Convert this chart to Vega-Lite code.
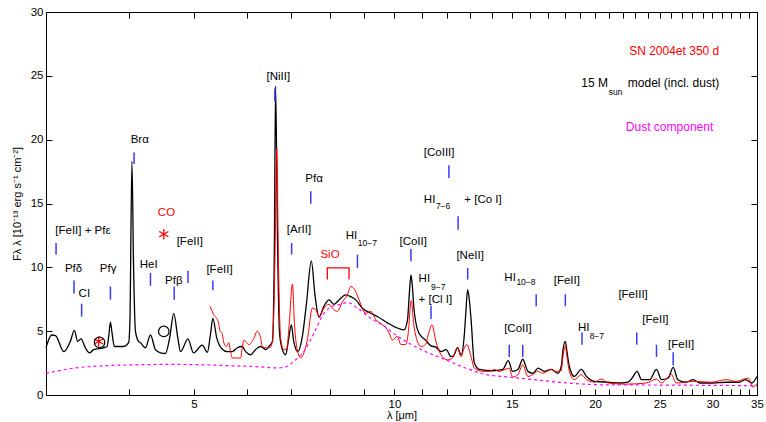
{
  "$schema": "https://vega.github.io/schema/vega-lite/v6.json",
  "width": 711,
  "height": 383,
  "autosize": "none",
  "padding": {"left": 46, "top": 12, "right": 9, "bottom": 27},
  "background": "white",
  "config": {
    "font": "Liberation Sans",
    "view": {"stroke": "black", "strokeWidth": 1},
    "axis": {"grid": false, "labelFont": "Liberation Sans", "titleFont": "Liberation Sans", "labelFontSize": 11.5, "titleFontSize": 11, "titleFontWeight": "normal", "labelColor": "black", "titleColor": "black", "tickColor": "black", "domainColor": "black", "tickSize": -6, "labelPadding": 9, "labelOverlap": false, "labelFlush": false},
    "text": {"font": "Liberation Sans", "fontSize": 11.5, "baseline": "middle"}
  },
  "resolve": {"axis": {"x": "independent", "y": "independent"}},
  "datasets": {
    "spec": [
      {"s":"model","x":3.0,"y":3.7},{"s":"model","x":3.06,"y":4.7},{"s":"model","x":3.10,"y":4.65},{"s":"model","x":3.19,"y":3.4},{"s":"model","x":3.263,"y":4.2},{"s":"model","x":3.309,"y":5.06},{"s":"model","x":3.347,"y":4.2},{"s":"model","x":3.386,"y":4.4},{"s":"model","x":3.437,"y":3.7},{"s":"model","x":3.488,"y":3.3},{"s":"model","x":3.537,"y":3.55},{"s":"model","x":3.658,"y":3.7},{"s":"model","x":3.705,"y":3.8},{"s":"model","x":3.73,"y":4.8},{"s":"model","x":3.748,"y":5.7},{"s":"model","x":3.77,"y":4.8},{"s":"model","x":3.80,"y":3.8},{"s":"model","x":3.924,"y":3.8},{"s":"model","x":3.992,"y":4.1},{"s":"model","x":4.01,"y":6},{"s":"model","x":4.037,"y":18.3},{"s":"model","x":4.06,"y":10},{"s":"model","x":4.086,"y":5},{"s":"model","x":4.13,"y":4.2},{"s":"model","x":4.158,"y":4.1},{"s":"model","x":4.23,"y":3.7},{"s":"model","x":4.304,"y":4.7},{"s":"model","x":4.379,"y":3.55},{"s":"model","x":4.456,"y":3.3},{"s":"model","x":4.533,"y":3.25},{"s":"model","x":4.60,"y":4.5},{"s":"model","x":4.665,"y":6.4},{"s":"model","x":4.73,"y":4.5},{"s":"model","x":4.775,"y":3.4},{"s":"model","x":4.90,"y":4.4},{"s":"model","x":4.994,"y":3.3},{"s":"model","x":5.148,"y":3.9},{"s":"model","x":5.24,"y":3.35},{"s":"model","x":5.297,"y":4.8},{"s":"model","x":5.34,"y":6.0},{"s":"model","x":5.41,"y":4.5},{"s":"model","x":5.514,"y":3.6},{"s":"model","x":5.608,"y":3.4},{"s":"model","x":5.71,"y":3.4},{"s":"model","x":5.81,"y":3.7},{"s":"model","x":5.91,"y":3.8},{"s":"model","x":5.98,"y":3.4},{"s":"model","x":6.084,"y":3.15},{"s":"model","x":6.186,"y":3.55},{"s":"model","x":6.299,"y":3.8},{"s":"model","x":6.41,"y":3.55},{"s":"model","x":6.48,"y":3.8},{"s":"model","x":6.56,"y":4.2},{"s":"model","x":6.605,"y":12},{"s":"model","x":6.632,"y":24.2},{"s":"model","x":6.677,"y":12},{"s":"model","x":6.72,"y":5},{"s":"model","x":6.77,"y":3.8},{"s":"model","x":6.867,"y":3.15},{"s":"model","x":6.93,"y":4.2},{"s":"model","x":7.003,"y":5.5},{"s":"model","x":7.06,"y":4.2},{"s":"model","x":7.164,"y":3.4},{"s":"model","x":7.27,"y":4.5},{"s":"model","x":7.38,"y":7.2},{"s":"model","x":7.503,"y":10.5},{"s":"model","x":7.60,"y":7.8},{"s":"model","x":7.706,"y":6.1},{"s":"model","x":7.838,"y":6.95},{"s":"model","x":7.975,"y":7.45},{"s":"model","x":8.115,"y":7.1},{"s":"model","x":8.257,"y":7.45},{"s":"model","x":8.451,"y":7.85},{"s":"model","x":8.601,"y":7.7},{"s":"model","x":8.749,"y":7.45},{"s":"model","x":8.953,"y":6.8},{"s":"model","x":9.218,"y":6.4},{"s":"model","x":9.427,"y":6.15},{"s":"model","x":9.765,"y":5.65},{"s":"model","x":10.045,"y":5.3},{"s":"model","x":10.339,"y":5.1},{"s":"model","x":10.463,"y":5.9},{"s":"model","x":10.53,"y":8.0},{"s":"model","x":10.587,"y":9.4},{"s":"model","x":10.64,"y":8.5},{"s":"model","x":10.70,"y":6.7},{"s":"model","x":10.88,"y":4.85},{"s":"model","x":11.134,"y":4.3},{"s":"model","x":11.346,"y":3.85},{"s":"model","x":11.54,"y":3.75},{"s":"model","x":11.746,"y":3.4},{"s":"model","x":11.958,"y":3.55},{"s":"model","x":12.16,"y":3.0},{"s":"model","x":12.29,"y":3.15},{"s":"model","x":12.435,"y":3.7},{"s":"model","x":12.588,"y":3.15},{"s":"model","x":12.726,"y":4.6},{"s":"model","x":12.8,"y":6.5},{"s":"model","x":12.876,"y":8.25},{"s":"model","x":12.95,"y":7.5},{"s":"model","x":13.032,"y":5.9},{"s":"model","x":13.18,"y":2.5},{"s":"model","x":13.41,"y":2.0},{"s":"model","x":14.05,"y":1.9},{"s":"model","x":14.54,"y":2.0},{"s":"model","x":14.82,"y":2.7},{"s":"model","x":15.04,"y":1.85},{"s":"model","x":15.32,"y":2.0},{"s":"model","x":15.58,"y":2.8},{"s":"model","x":15.86,"y":1.85},{"s":"model","x":16.13,"y":1.7},{"s":"model","x":16.44,"y":2.1},{"s":"model","x":16.78,"y":1.85},{"s":"model","x":17.19,"y":2.0},{"s":"model","x":17.58,"y":1.7},{"s":"model","x":17.796,"y":2.25},{"s":"model","x":17.9,"y":3.5},{"s":"model","x":18.05,"y":4.2},{"s":"model","x":18.15,"y":3.4},{"s":"model","x":18.30,"y":2.25},{"s":"model","x":18.61,"y":1.45},{"s":"model","x":19.07,"y":2.0},{"s":"model","x":19.42,"y":1.45},{"s":"model","x":19.96,"y":1.07},{"s":"model","x":20.92,"y":1.0},{"s":"model","x":21.9,"y":0.94},{"s":"model","x":22.40,"y":1.0},{"s":"model","x":22.68,"y":1.25},{"s":"model","x":23.13,"y":1.85},{"s":"model","x":23.48,"y":1.2},{"s":"model","x":24.16,"y":1.2},{"s":"model","x":24.73,"y":2.0},{"s":"model","x":25.16,"y":1.2},{"s":"model","x":25.75,"y":1.33},{"s":"model","x":26.2,"y":2.17},{"s":"model","x":26.62,"y":1.2},{"s":"model","x":27.37,"y":1.0},{"s":"model","x":28.08,"y":1.2},{"s":"model","x":28.70,"y":0.94},{"s":"model","x":30.06,"y":0.94},{"s":"model","x":31.49,"y":1.0},{"s":"model","x":32.89,"y":1.0},{"s":"model","x":33.64,"y":1.2},{"s":"model","x":34.36,"y":0.94},{"s":"model","x":35.0,"y":1.45},
      {"s":"obs","x":5.286,"y":6.95},{"s":"obs","x":5.355,"y":6.3},{"s":"obs","x":5.437,"y":5.8},{"s":"obs","x":5.475,"y":5.0},{"s":"obs","x":5.514,"y":4.85},{"s":"obs","x":5.545,"y":4.1},{"s":"obs","x":5.595,"y":3.8},{"s":"obs","x":5.64,"y":4.1},{"s":"obs","x":5.677,"y":3.4},{"s":"obs","x":5.71,"y":2.9},{"s":"obs","x":5.877,"y":2.9},{"s":"obs","x":5.91,"y":3.7},{"s":"obs","x":5.945,"y":4.3},{"s":"obs","x":6.0,"y":4.1},{"s":"obs","x":6.05,"y":3.95},{"s":"obs","x":6.155,"y":4.45},{"s":"obs","x":6.225,"y":5.0},{"s":"obs","x":6.299,"y":4.45},{"s":"obs","x":6.33,"y":3.8},{"s":"obs","x":6.43,"y":3.7},{"s":"obs","x":6.50,"y":3.7},{"s":"obs","x":6.56,"y":4.2},{"s":"obs","x":6.615,"y":10},{"s":"obs","x":6.659,"y":19.3},{"s":"obs","x":6.70,"y":10},{"s":"obs","x":6.748,"y":4.5},{"s":"obs","x":6.81,"y":3.6},{"s":"obs","x":6.89,"y":3.55},{"s":"obs","x":6.95,"y":5.5},{"s":"obs","x":7.03,"y":8.7},{"s":"obs","x":7.08,"y":5.5},{"s":"obs","x":7.15,"y":3.5},{"s":"obs","x":7.234,"y":2.9},{"s":"obs","x":7.30,"y":3.2},{"s":"obs","x":7.40,"y":4.3},{"s":"obs","x":7.53,"y":6.8},{"s":"obs","x":7.617,"y":6.7},{"s":"obs","x":7.706,"y":6.15},{"s":"obs","x":7.838,"y":6.8},{"s":"obs","x":7.975,"y":7.1},{"s":"obs","x":8.07,"y":6.8},{"s":"obs","x":8.21,"y":6.55},{"s":"obs","x":8.355,"y":7.3},{"s":"obs","x":8.50,"y":7.85},{"s":"obs","x":8.601,"y":8.5},{"s":"obs","x":8.749,"y":8.1},{"s":"obs","x":8.848,"y":7.45},{"s":"obs","x":9.055,"y":6.4},{"s":"obs","x":9.218,"y":6.55},{"s":"obs","x":9.376,"y":5.9},{"s":"obs","x":9.596,"y":5.5},{"s":"obs","x":9.71,"y":5.25},{"s":"obs","x":9.82,"y":4.85},{"s":"obs","x":9.93,"y":4.3},{"s":"obs","x":10.10,"y":4.6},{"s":"obs","x":10.227,"y":3.95},{"s":"obs","x":10.40,"y":3.95},{"s":"obs","x":10.48,"y":4.7},{"s":"obs","x":10.60,"y":7.4},{"s":"obs","x":10.69,"y":5.5},{"s":"obs","x":10.77,"y":4.6},{"s":"obs","x":10.96,"y":3.8},{"s":"obs","x":11.134,"y":3.95},{"s":"obs","x":11.25,"y":4.8},{"s":"obs","x":11.386,"y":5.5},{"s":"obs","x":11.54,"y":4.2},{"s":"obs","x":11.746,"y":3.15},{"s":"obs","x":12.01,"y":2.75},{"s":"obs","x":12.22,"y":2.9},{"s":"obs","x":12.435,"y":3.7},{"s":"obs","x":12.588,"y":3.0},{"s":"obs","x":12.71,"y":3.6},{"s":"obs","x":12.84,"y":3.95},{"s":"obs","x":13.032,"y":3.0},{"s":"obs","x":13.18,"y":2.1},{"s":"obs","x":13.57,"y":1.85},{"s":"obs","x":13.88,"y":1.85},{"s":"obs","x":14.13,"y":2.0},{"s":"obs","x":14.36,"y":1.85},{"s":"obs","x":14.65,"y":2.0},{"s":"obs","x":14.87,"y":2.1},{"s":"obs","x":15.04,"y":1.4},{"s":"obs","x":15.32,"y":1.6},{"s":"obs","x":15.58,"y":2.37},{"s":"obs","x":15.86,"y":1.45},{"s":"obs","x":16.13,"y":1.6},{"s":"obs","x":16.40,"y":1.85},{"s":"obs","x":16.69,"y":1.7},{"s":"obs","x":17.19,"y":2.0},{"s":"obs","x":17.47,"y":1.85},{"s":"obs","x":17.796,"y":1.9},{"s":"obs","x":17.9,"y":3.0},{"s":"obs","x":18.05,"y":3.8},{"s":"obs","x":18.15,"y":3.0},{"s":"obs","x":18.30,"y":1.85},{"s":"obs","x":18.61,"y":1.2},{"s":"obs","x":19.07,"y":1.6},{"s":"obs","x":19.42,"y":1.2},{"s":"obs","x":19.96,"y":1.0},{"s":"obs","x":20.44,"y":1.25},{"s":"obs","x":20.92,"y":0.94},{"s":"obs","x":22.27,"y":0.85},{"s":"obs","x":23.88,"y":0.94},{"s":"obs","x":24.73,"y":1.25},{"s":"obs","x":25.16,"y":0.94},{"s":"obs","x":26.05,"y":1.6},{"s":"obs","x":26.46,"y":0.94},{"s":"obs","x":28.08,"y":1.07},{"s":"obs","x":29.91,"y":1.0},{"s":"obs","x":31.49,"y":1.2},{"s":"obs","x":32.58,"y":1.07},{"s":"obs","x":33.98,"y":1.33},{"s":"obs","x":34.49,"y":0.63},{"s":"obs","x":35.0,"y":0.9},
      {"s":"dust","x":3.0,"y":1.7},{"s":"dust","x":3.30,"y":2.1},{"s":"dust","x":3.705,"y":2.3},{"s":"dust","x":4.158,"y":2.37},{"s":"dust","x":4.533,"y":2.4},{"s":"dust","x":5.117,"y":2.37},{"s":"dust","x":5.61,"y":2.3},{"s":"dust","x":6.30,"y":2.2},{"s":"dust","x":6.63,"y":2.12},{"s":"dust","x":6.87,"y":2.2},{"s":"dust","x":7.07,"y":2.65},{"s":"dust","x":7.31,"y":3.4},{"s":"dust","x":7.574,"y":4.85},{"s":"dust","x":7.838,"y":6.4},{"s":"dust","x":8.07,"y":6.95},{"s":"dust","x":8.309,"y":7.1},{"s":"dust","x":8.50,"y":7.25},{"s":"dust","x":8.80,"y":6.8},{"s":"dust","x":9.218,"y":6.0},{"s":"dust","x":9.65,"y":5.4},{"s":"dust","x":10.045,"y":4.7},{"s":"dust","x":10.40,"y":4.2},{"s":"dust","x":11.134,"y":3.4},{"s":"dust","x":11.958,"y":2.75},{"s":"dust","x":12.80,"y":2.1},{"s":"dust","x":13.72,"y":1.6},{"s":"dust","x":14.54,"y":1.45},{"s":"dust","x":16.22,"y":1.2},{"s":"dust","x":18.20,"y":0.94},{"s":"dust","x":20.44,"y":0.8},{"s":"dust","x":25.16,"y":0.78},{"s":"dust","x":35.0,"y":0.73}
    ],
    "ids": [
      {"x":4.067,"y":18.1,"y2":19.0},{"x":3.106,"y":10.98,"y2":11.9},{"x":3.305,"y":7.95,"y2":8.96},{"x":3.393,"y":6.14,"y2":7.15},{"x":3.748,"y":7.47,"y2":8.5},{"x":4.304,"y":8.56,"y2":9.56},{"x":4.672,"y":7.47,"y2":8.5},{"x":4.90,"y":8.78,"y2":9.74},{"x":5.34,"y":8.2,"y2":8.96},{"x":6.615,"y":23.0,"y2":24.0},{"x":7.489,"y":14.99,"y2":15.96},{"x":12.07,"y":17.0,"y2":17.99},{"x":12.46,"y":12.95,"y2":14.0},{"x":7.01,"y":11.0,"y2":11.9},{"x":8.80,"y":9.95,"y2":11.0},{"x":10.587,"y":10.47,"y2":11.44},{"x":11.346,"y":5.95,"y2":7.0},{"x":12.88,"y":9.04,"y2":9.95},{"x":16.32,"y":6.95,"y2":7.9},{"x":18.05,"y":6.95,"y2":7.9},{"x":23.1,"y":3.94,"y2":4.9},{"x":24.73,"y":2.98,"y2":3.94},{"x":26.2,"y":2.32,"y2":3.34},{"x":14.87,"y":2.98,"y2":3.94},{"x":15.58,"y":2.98,"y2":3.94},{"x":19.12,"y":3.94,"y2":4.9}
    ],
    "labc": [
      {"x":4.148,"y":19.95,"t":"Brα","g":"model"},{"x":3.30,"y":9.87,"t":"Pfδ","g":"model"},{"x":3.425,"y":7.94,"t":"CI","g":"model"},{"x":3.718,"y":9.87,"t":"Pfγ","g":"model"},{"x":4.279,"y":10.21,"t":"HeI","g":"model"},{"x":4.665,"y":8.9,"t":"Pfβ","g":"model"},{"x":4.93,"y":11.96,"t":"[FeII]","g":"model"},{"x":5.464,"y":9.82,"t":"[FeII]","g":"model"},{"x":6.695,"y":24.92,"t":"[NiII]","g":"model"},{"x":7.574,"y":16.95,"t":"Pfα","g":"model"},{"x":11.67,"y":18.97,"t":"[CoIII]","g":"model"},{"x":7.19,"y":12.95,"t":"[ArII]","g":"model"},{"x":10.67,"y":11.96,"t":"[CoII]","g":"model"},{"x":12.99,"y":10.86,"t":"[NeII]","g":"model"},{"x":18.14,"y":8.9,"t":"[FeII]","g":"model"},{"x":22.81,"y":7.86,"t":"[FeIII]","g":"model"},{"x":24.64,"y":5.85,"t":"[FeII]","g":"model"},{"x":26.93,"y":3.94,"t":"[FeII]","g":"model"},{"x":15.32,"y":5.17,"t":"[CoII]","g":"model"},{"x":4.549,"y":14.26,"t":"CO","g":"obs"},{"x":8.004,"y":10.99,"t":"SiO","g":"obs"}
    ],
    "labl": [
      {"x":3.098,"y":12.82,"t":"[FeII] + Pfε"},{"x":8.45,"y":12.43,"t":"HI"},{"x":11.07,"y":15.31,"t":"HI"},{"x":12.73,"y":15.31,"t":"+ [Co I]"},{"x":10.87,"y":9.05,"t":"HI"},{"x":10.87,"y":7.45,"t":"+ [Cl I]"},{"x":14.62,"y":9.17,"t":"HI"},{"x":18.85,"y":5.25,"t":"HI"}
    ],
    "subs": [
      {"x":8.81,"y":11.91,"t":"10−7"},{"x":11.54,"y":14.83,"t":"7−6"},{"x":11.35,"y":8.45,"t":"9−7"},{"x":15.24,"y":8.82,"t":"10−8"},{"x":19.63,"y":4.59,"t":"8−7"},{"x":20.97,"y":23.75,"t":"sun"}
    ],
    "legl": [{"x":22.40,"y":24.4,"t":"model (incl. dust)","g":"model"}],
    "legr": [
      {"x":20.92,"y":24.4,"t":"15 M","g":"model"},{"x":30.72,"y":26.98,"t":"SN 2004et 350 d","g":"obs"},{"x":30.09,"y":20.97,"t":"Dust component","g":"dust"}
    ],
    "stars": [{"x":4.507,"y":12.6},{"x":3.599,"y":4.2}],
    "circles": [{"x":3.61,"y":4.12},{"x":4.507,"y":4.98}],
    "bracket": [{"x":7.93,"y":9.04,"i":0},{"x":7.93,"y":9.95,"i":1},{"x":8.548,"y":9.95,"i":2},{"x":8.548,"y":9.04,"i":3}]
  },
  "layer": [
    {
      "data": {"name": "spec"},
      "transform": [{"filter": "datum.s === 'model'"}],
      "mark": {"type": "line", "color": "black", "strokeWidth": 1.3, "interpolate": "monotone"},
      "encoding": {
        "x": {"field": "x", "type": "quantitative", "scale": {"type": "log", "domain": [3, 35], "nice": false, "zero": false},
              "axis": {"orient": "bottom", "values": [4,5,6,7,8,9,10,11,12,13,14,15,16,17,18,19,20,21,22,23,24,25,26,27,28,29,30,31,32,33,34,35], "format": "d", "labelExpr": "datum.value % 5 === 0 ? datum.label : ''", "title": "λ [μm]", "titlePadding": 0}},
        "y": {"field": "y", "type": "quantitative", "scale": {"domain": [0, 30], "nice": false},
              "axis": {"orient": "left", "values": [0,5,10,15,20,25,30], "title": "Fλ λ [10⁻¹³ erg s⁻¹ cm⁻²]", "titlePadding": 8}}
      }
    },
    {
      "data": {"name": "spec"},
      "transform": [{"filter": "datum.s === 'obs'"}],
      "mark": {"type": "line", "color": "#ff0000", "strokeWidth": 1.0, "interpolate": "monotone"},
      "encoding": {
        "x": {"field": "x", "type": "quantitative", "axis": {"orient": "top", "values": [4,5,6,7,8,9,10,11,12,13,14,15,16,17,18,19,20,21,22,23,24,25,26,27,28,29,30,31,32,33,34,35], "labels": false, "title": null}},
        "y": {"field": "y", "type": "quantitative", "axis": {"orient": "right", "values": [0,5,10,15,20,25,30], "labels": false, "title": null}}
      }
    },
    {
      "data": {"name": "spec"},
      "transform": [{"filter": "datum.s === 'dust'"}],
      "mark": {"type": "line", "color": "#ff00ff", "strokeWidth": 1.2, "strokeDash": [3, 3], "interpolate": "monotone"},
      "encoding": {
        "x": {"field": "x", "type": "quantitative", "axis": null},
        "y": {"field": "y", "type": "quantitative", "axis": null}
      }
    },
    {
      "data": {"name": "ids"},
      "mark": {"type": "rule", "color": "#3a3aff", "strokeWidth": 1.5},
      "encoding": {
        "x": {"field": "x", "type": "quantitative", "axis": null},
        "y": {"field": "y", "type": "quantitative", "axis": null},
        "y2": {"field": "y2"}
      }
    },
    {
      "data": {"name": "bracket"},
      "mark": {"type": "line", "color": "#ff0000", "strokeWidth": 1.3},
      "encoding": {
        "x": {"field": "x", "type": "quantitative", "axis": null},
        "y": {"field": "y", "type": "quantitative", "axis": null},
        "order": {"field": "i"}
      }
    },
    {
      "data": {"name": "labc"},
      "mark": {"type": "text", "align": "center"},
      "encoding": {
        "x": {"field": "x", "type": "quantitative", "axis": null},
        "y": {"field": "y", "type": "quantitative", "axis": null},
        "text": {"field": "t"},
        "color": {"field": "g", "type": "nominal", "scale": {"domain": ["model", "obs", "dust"], "range": ["#000000", "#ff0000", "#ff00ff"]}, "legend": null}
      }
    },
    {
      "data": {"name": "labl"},
      "mark": {"type": "text", "align": "left", "color": "black"},
      "encoding": {
        "x": {"field": "x", "type": "quantitative", "axis": null},
        "y": {"field": "y", "type": "quantitative", "axis": null},
        "text": {"field": "t"}
      }
    },
    {
      "data": {"name": "subs"},
      "mark": {"type": "text", "align": "left", "fontSize": 8.5, "color": "black"},
      "encoding": {
        "x": {"field": "x", "type": "quantitative", "axis": null},
        "y": {"field": "y", "type": "quantitative", "axis": null},
        "text": {"field": "t"}
      }
    },
    {
      "data": {"name": "legl"},
      "mark": {"type": "text", "align": "left", "fontSize": 12},
      "encoding": {
        "x": {"field": "x", "type": "quantitative", "axis": null},
        "y": {"field": "y", "type": "quantitative", "axis": null},
        "text": {"field": "t"},
        "color": {"field": "g", "type": "nominal", "legend": null}
      }
    },
    {
      "data": {"name": "legr"},
      "mark": {"type": "text", "align": "right", "fontSize": 12},
      "encoding": {
        "x": {"field": "x", "type": "quantitative", "axis": null},
        "y": {"field": "y", "type": "quantitative", "axis": null},
        "text": {"field": "t"},
        "color": {"field": "g", "type": "nominal", "legend": null}
      }
    },
    {
      "data": {"name": "stars"},
      "mark": {"type": "point", "shape": "M0,-1L0,1M-0.866,-0.5L0.866,0.5M-0.866,0.5L0.866,-0.5", "filled": false, "stroke": "#ff0000", "strokeWidth": 1.3, "size": 110, "opacity": 1},
      "encoding": {
        "x": {"field": "x", "type": "quantitative", "axis": null},
        "y": {"field": "y", "type": "quantitative", "axis": null}
      }
    },
    {
      "data": {"name": "circles"},
      "mark": {"type": "point", "shape": "circle", "filled": false, "stroke": "black", "strokeWidth": 1.2, "size": 110, "opacity": 1},
      "encoding": {
        "x": {"field": "x", "type": "quantitative", "axis": null},
        "y": {"field": "y", "type": "quantitative", "axis": null}
      }
    }
  ]
}
